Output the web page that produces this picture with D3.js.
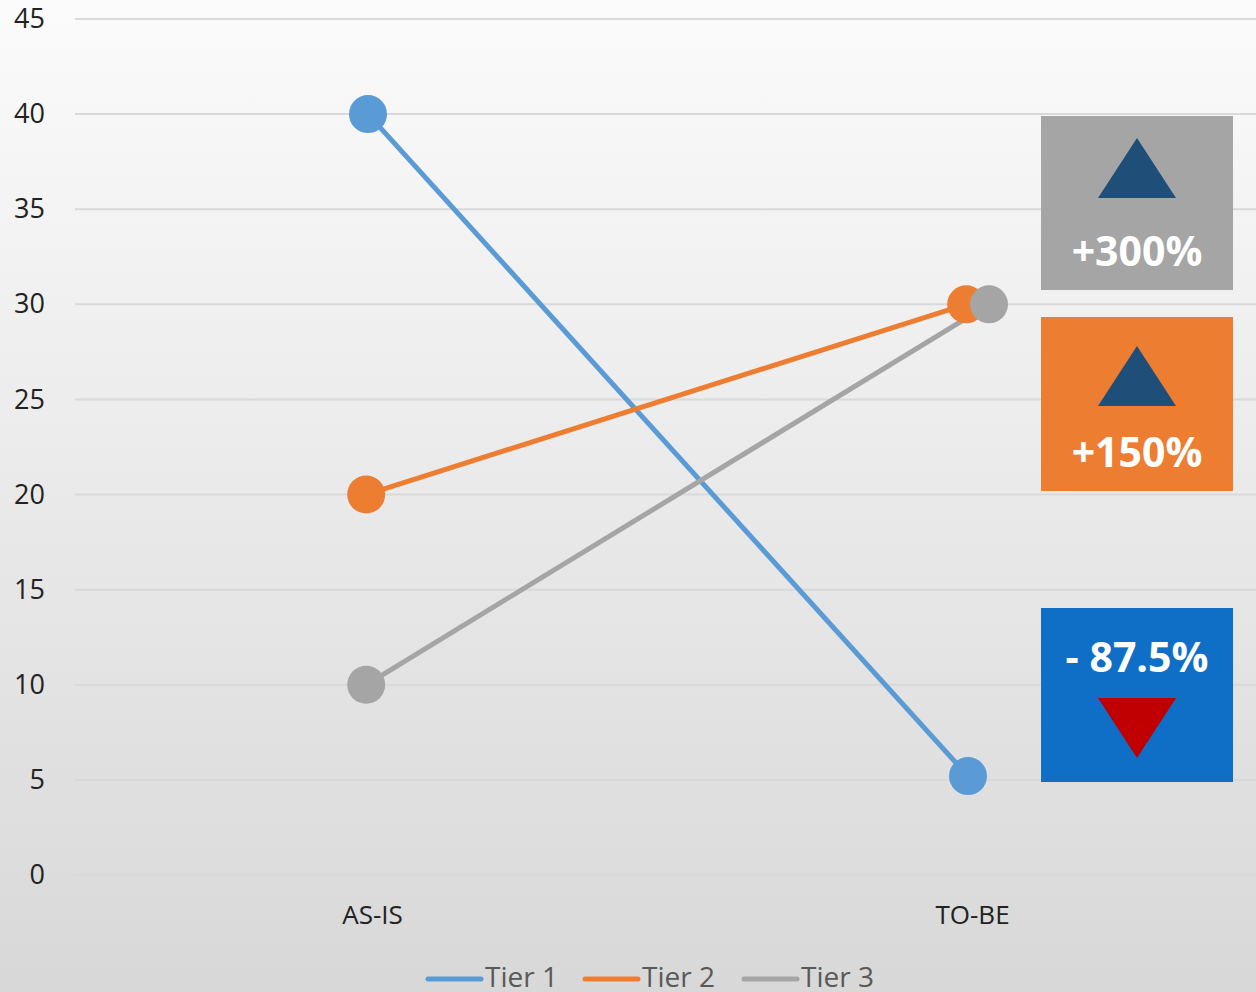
<!DOCTYPE html>
<html>
<head>
<meta charset="utf-8">
<script src="https://cdn.jsdelivr.net/npm/d3@7"></script>
<style>
  body { margin: 0; padding: 0; overflow: hidden; }
  svg { display: block; font-family: "Open Sans", sans-serif; }
</style>
</head>
<body>
<div class="chart"></div>
<script>
    // data
    const categories = ["AS-IS", "TO-BE"];
    const seriesNames = ["Tier 1", "Tier 2", "Tier 3"];
    const seriesColors = ["#5B9BD5", "#ED7D31", "#A5A5A5"];
    const tier1 = [40, 5.2];
    const tier2 = [20, 30];
    const tier3 = [10, 30];
    // x position of each point (category index, Tier 3 sits slightly right at TO-BE)
    const tier1X = [1, 2];
    const tier2X = [0.997, 1.997];
    const tier3X = [0.997, 2.035];
    const yTicks = [0, 5, 10, 15, 20, 25, 30, 35, 40, 45];
    const badgeLabels = ["+300%", "+150%", "- 87.5%"];
    const badgeColors = ["#A5A5A5", "#ED7D31", "#0F6FC6"];

    const W = 1256, H = 992;
    const margin = ({top: 19, right: 0, bottom: 117, left: 75});
    const height = H - margin.top - margin.bottom;

    const svg = d3.select('.chart').append('svg')
        .attr("width", W)
        .attr("height", H);

    const grad = svg.append("defs").append("linearGradient")
        .attr("id", "bg")
        .attr("x1", 0).attr("y1", 0).attr("x2", 0).attr("y2", 1);
    grad.append("stop").attr("offset", "0%").attr("stop-color", "#fbfbfb");
    grad.append("stop").attr("offset", "100%").attr("stop-color", "#d8d8d8");

    svg.append("rect")
        .attr("width", W).attr("height", H)
        .attr("fill", "url(#bg)");

    const plot = svg.append("g")
        .attr("transform", "translate(0," + margin.top + ")");

    const xScale = d3.scaleLinear()
        .domain([0.5, 2.5])
        .range([68, 1268]);

    const yScale = d3.scaleLinear()
        .domain([0, 45])
        .range([height, 0]);

    // gridlines
    plot.append("g")
        .selectAll("line")
        .data(yTicks)
        .join("line")
        .attr("x1", margin.left)
        .attr("x2", W)
        .attr("y1", d => yScale(d))
        .attr("y2", d => yScale(d))
        .attr("stroke", "#d9d9d9")
        .attr("stroke-width", 2);

    // y axis labels
    const yAxis = d3.axisLeft(yScale)
        .tickValues(yTicks)
        .tickSize(0)
        .tickPadding(30);

    plot.append("g")
        .attr("class", "axis y-axis")
        .attr("transform", `translate(${margin.left}, 0)`)
        .call(yAxis)
        .call(g => g.select(".domain").remove())
        .selectAll("text")
        .attr("font-family", "Open Sans, sans-serif")
        .attr("font-size", "27px")
        .attr("fill", "#222");

    // x axis labels
    const xAxis = d3.axisBottom(xScale)
        .tickValues([1, 2])
        .tickFormat((d, i) => categories[i])
        .tickSize(0)
        .tickPadding(31);

    plot.append("g")
        .attr("class", "axis x-axis")
        .attr("transform", `translate(4, ${height})`)
        .call(xAxis)
        .call(g => g.select(".domain").remove())
        .selectAll("text")
        .attr("font-family", "Open Sans, sans-serif")
        .attr("font-size", "26px")
        .attr("fill", "#222");

    const series = [tier1, tier2, tier3].map((vals, i) => ({
        name: seriesNames[i],
        color: seriesColors[i],
        points: vals.map((v, j) => ({x: [tier1X, tier2X, tier3X][i][j], y: v}))
    }));

    const line = d3.line()
        .x(d => xScale(d.x))
        .y(d => yScale(d.y));

    plot.selectAll(".series-line")
        .data(series)
        .join("path")
        .attr("class", "series-line")
        .attr("d", d => line(d.points))
        .attr("fill", "none")
        .attr("stroke", d => d.color)
        .attr("stroke-width", 5);

    const markers = plot.selectAll(".markers")
        .data(series)
        .join("g")
        .attr("class", "markers");
    markers.selectAll("circle")
        .data(d => d.points.map(p => ({...p, color: d.color})))
        .join("circle")
        .attr("cx", d => xScale(d.x))
        .attr("cy", d => yScale(d.y))
        .attr("r", 19)
        .attr("fill", d => d.color);

    // change badges
    const badges = [
        {y: 116, up: true, tri: 22},
        {y: 317, up: true, tri: 29},
        {y: 608, up: false, tri: 90}
    ];
    badges.forEach((b, i) => {
        const g = svg.append("g").attr("transform", `translate(1041, ${b.y})`);
        g.append("rect")
            .attr("width", 192).attr("height", 174)
            .attr("fill", badgeColors[i]);
        const t = b.tri;
        g.append("path")
            .attr("d", b.up
                ? `M96,${t} L135,${t + 60} L57,${t + 60} Z`
                : `M57,${t} L135,${t} L96,${t + 60} Z`)
            .attr("fill", b.up ? "#1F4E79" : "#C00000");
        g.append("text")
            .attr("x", 96).attr("y", b.up ? 150 : 64)
            .attr("text-anchor", "middle")
            .attr("font-family", "Open Sans, sans-serif")
            .attr("font-weight", "bold")
            .attr("font-size", "41px")
            .attr("fill", "#fff")
            .text(badgeLabels[i]);
    });

    // legend
    const legendX = [426, 583, 742];
    const legend = svg.append("g").attr("transform", "translate(0, 979)");
    series.forEach((s, i) => {
        legend.append("line")
            .attr("x1", legendX[i] + 2).attr("x2", legendX[i] + 55)
            .attr("stroke", s.color)
            .attr("stroke-width", 5)
            .attr("stroke-linecap", "round");
        legend.append("text")
            .attr("x", legendX[i] + 59)
            .attr("y", 8)
            .attr("font-family", "Open Sans, sans-serif")
            .attr("font-size", "28px")
            .attr("fill", "#595959")
            .text(s.name);
    });
</script>
</body>
</html>
